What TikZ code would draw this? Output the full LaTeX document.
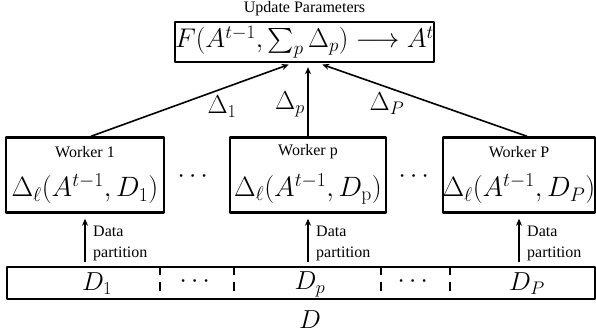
\RequirePackage{fix-cm}
\documentclass[tikz,border=0pt]{standalone}
\usepackage{amsmath}
\usepackage[no-math]{fontspec}
\setmainfont{Liberation Serif}
\newfontfamily\timesfont{Liberation Serif}
\usetikzlibrary{arrows.meta}

\tikzset{
  box/.style={draw, line width=2.4pt, inner sep=0pt},
  big/.style={font=\fontsize{26}{30}\selectfont},
  huge/.style={font=\fontsize{28}{32}\selectfont},
  small/.style={font=\timesfont\fontsize{16}{21}\selectfont, inner sep=1pt},
  link/.style={line width=1.6pt, -{Stealth[length=7pt,width=6pt]}},
  cut/.style={line width=2.4pt, dash pattern=on 9pt off 7pt},
}

\begin{document}
\begin{tikzpicture}[x=1pt, y=-1pt, line join=round]
  \useasboundingbox (0,0) rectangle (596,334);

  % Hop cap nhat tham so
  \node[small, inner sep=0pt, anchor=south] (updtitle) at (304.5,16) {Update Parameters};
  \node[box, font=\fontsize{27}{30}\selectfont, minimum width=253pt, minimum height=40pt] (upd) at (304.5,42)
    {$F(A^{t-1},\sum_p \Delta_p)\longrightarrow A^t$};

  % Cac worker
  \foreach \n/\x/\w/\d in {1/85/158/D_1, p/308/156/D_{\mathrm{p}}, P/519/152/D_P}{
    \node[box, minimum width=\w pt, minimum height=75pt] (w\n) at (\x,175) {};
    \node[small] (wt\n) at (\x,152) {Worker \n};
    \node[huge] (wf\n) at (\x,189) {$\Delta_\ell(A^{t-1},\d)$};
  }
  \node[big] (wdots1) at (195,177) {$\cdots$};
  \node[big] (wdots2) at (416,177) {$\cdots$};

  % Gui Delta len
  \draw[link, shorten >=4pt] ([xshift=6pt]w1.north) -- ([xshift=-12pt]upd.south);
  \draw[link, shorten >=4pt] (wp.north) -- (wp.north |- upd.south);
  \draw[link, shorten >=4pt] ([xshift=8pt]wP.north) -- ([xshift=14pt]upd.south);
  \node[big] (d1) at (222,107) {$\Delta_1$};
  \node[big] (dp) at (290,104) {$\Delta_p$};
  \node[big] (dP) at (387,104) {$\Delta_P$};

  % Thanh du lieu D
  \node[box, minimum width=588pt, minimum height=32pt] (bar) at (301,283) {};
  \foreach \s in {160,234,381,450}
    \draw[cut] (\s,0 |- bar.north) -- (\s,0 |- bar.south);
  \node[big] (b1) at (97,284) {$D_1$};
  \node[big] (bdots1) at (197,282) {$\cdots$};
  \node[big] (bp) at (310,284) {$D_p$};
  \node[big] (bdots2) at (415,282) {$\cdots$};
  \node[big] (bP) at (527,284) {$D_P$};
  \node[big] (dall) at (310,320) {$D$};

  % Phan chia du lieu
  \foreach \n in {1,p,P}{
    \draw[link, shorten <=4pt, shorten >=5pt] (w\n.south |- bar.north) -- (w\n.south);
    \node[small, align=left, anchor=west] (part\n) at ([xshift=7pt]w\n.south |- 0,243) {Data\\partition};
  }
\end{tikzpicture}
\end{document}
